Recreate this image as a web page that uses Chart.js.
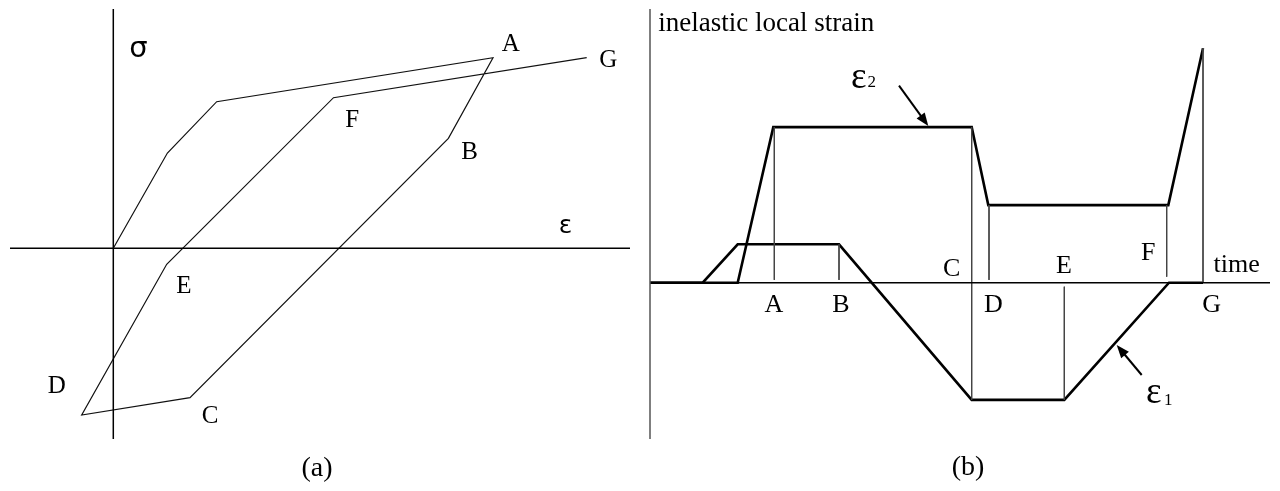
<!DOCTYPE html>
<html><head><meta charset="utf-8">
<script src="https://cdn.jsdelivr.net/npm/chart.js@4/dist/chart.umd.min.js"></script>
<style>
html,body{margin:0;padding:0;background:#fff;width:1280px;height:491px;overflow:hidden}
canvas{position:absolute;top:0}
#ca{left:0}
#cb{left:640px}
</style></head><body>
<canvas id="ca" width="640" height="491"></canvas>
<canvas id="cb" width="640" height="491"></canvas>
<script>
// ---------- Panel (a): stress-strain loop ----------
const loopStrain = [0, 0.541, 1.034, 3.797, 3.351, 0.767, -0.316, 0.534, 2.202, 4.734];
const loopStress = [0, 0.953, 1.466, 1.906, 1.100, -1.494, -1.667, -0.160, 1.506, 1.906];
const loopLabels = ['A', 'B', 'C', 'D', 'E', 'F', 'G'];
const loopLabelStrain = [3.975, 3.564, 0.967, -0.566, 0.707, 2.389, 4.949];
const loopLabelStress = [2.036, 0.958, -1.677, -1.384, -0.384, 1.275, 1.883];
const strainRangeA = [-1.033, 5.167];
const stressRangeA = [-1.907, 2.393];

// ---------- Panel (b): inelastic local strain vs time ----------
const eps1Time = [0, 5.27, 8.77, 18.9, 32.17, 41.43, 51.9, 55.3];
const eps1Value = [0, 0, 0.96, 0.96, -2.93, -2.93, 0, 0];
const eps2Time = [0, 8.77, 12.33, 32.17, 33.83, 51.83, 55.3];
const eps2Value = [0, 0, 3.89, 3.89, 1.94, 1.94, 5.86];
const eventLabels = ['A', 'B', 'C', 'D', 'E', 'F', 'G'];
const eventTime = [12.43, 18.9, 32.17, 33.9, 41.43, 51.67, 55.3];
const eventTop = [3.89, 0.96, 3.89, 1.94, -0.1, 1.94, 5.86];
const eventBottom = [0.07, 0.07, -2.93, 0.07, -2.93, 0.15, 0];
const eventLabelTime = [12.4, 19.1, 30.17, 34.33, 41.4, 49.83, 56.17];
const eventLabelValue = [-0.56, -0.56, 0.335, -0.56, 0.42, 0.735, -0.56];
const arrowTailTime = [24.9, 49.17];
const arrowTailValue = [4.925, -2.3075];
const arrowTipTime = [27.83, 46.67];
const arrowTipValue = [3.9175, -1.5575];
const timeRange = [0, 62];
const strainRangeB = [-3.9075, 6.8425];

const SERIF = '"Liberation Serif", "Times New Roman", serif';
const SANS = '"DejaVu Sans", sans-serif';

function pts(xs, ys) { return xs.map((v, i) => ({ x: v, y: ys[i] })); }
function line(data, color, width) {
  return { data, borderColor: color, borderWidth: width, showLine: true, pointRadius: 0,
           fill: false, tension: 0, clip: false, borderJoinStyle: 'miter' };
}

const textPlugin = {
  id: 'texts',
  afterDatasetsDraw(chart, args, opts) {
    const { ctx } = chart; const sx = chart.scales.x, sy = chart.scales.y;
    ctx.save();
    ctx.fillStyle = '#000';
    for (const it of opts.items || []) {
      ctx.font = it.font;
      ctx.textAlign = it.align || 'center';
      ctx.textBaseline = it.baseline || 'middle';
      ctx.fillText(it.text, sx.getPixelForValue(it.x), sy.getPixelForValue(it.y));
    }
    for (const a of opts.arrows || []) {
      const x0 = sx.getPixelForValue(a.x0), y0 = sy.getPixelForValue(a.y0);
      const x1 = sx.getPixelForValue(a.x1), y1 = sy.getPixelForValue(a.y1);
      const ang = Math.atan2(y1 - y0, x1 - x0);
      const L = 13, W = 5;
      ctx.strokeStyle = '#000'; ctx.lineWidth = 2;
      ctx.beginPath(); ctx.moveTo(x0, y0);
      ctx.lineTo(x1 - L * 0.8 * Math.cos(ang), y1 - L * 0.8 * Math.sin(ang)); ctx.stroke();
      ctx.beginPath();
      ctx.moveTo(x1, y1);
      ctx.lineTo(x1 - L * Math.cos(ang) + W * Math.sin(ang), y1 - L * Math.sin(ang) - W * Math.cos(ang));
      ctx.lineTo(x1 - L * Math.cos(ang) - W * Math.sin(ang), y1 - L * Math.sin(ang) + W * Math.cos(ang));
      ctx.closePath(); ctx.fill();
    }
    ctx.restore();
  }
};

function baseOptions(xr, yr, items, arrows) {
  return {
    responsive: false, animation: false, devicePixelRatio: 1,
    layout: { padding: { left: 10, right: 10, top: 9, bottom: 52 } },
    scales: {
      x: { type: 'linear', min: xr[0], max: xr[1], display: false },
      y: { type: 'linear', min: yr[0], max: yr[1], display: false }
    },
    plugins: { legend: { display: false }, tooltip: { enabled: false }, title: { display: false },
               texts: { items, arrows } }
  };
}

// ---------- chart (a) ----------
const itemsA = loopLabels.map((t, i) => ({ text: t, x: loopLabelStrain[i], y: loopLabelStress[i], font: '25px ' + SERIF }));
itemsA.push({ text: 'σ', x: 0.16, y: 1.916, font: '29px ' + SANS, align: 'left', baseline: 'alphabetic' });
itemsA.push({ text: 'ε', x: 4.455, y: 0.15, font: '25px ' + SANS, align: 'left', baseline: 'alphabetic' });
itemsA.push({ text: '(a)', x: (317 - 113.3) / 100, y: (248.3 - 469) / 100, font: '28px ' + SERIF });

new Chart(document.getElementById('ca'), {
  type: 'scatter',
  data: { datasets: [
    line(pts(strainRangeA, [0, 0]), '#000', 1.5),
    line(pts([0, 0], stressRangeA), '#000', 1.5),
    line(pts(loopStrain, loopStress), '#111', 1.2)
  ] },
  options: baseOptions(strainRangeA, stressRangeA, itemsA, []),
  plugins: [textPlugin]
});

// ---------- chart (b) ----------
const itemsB = eventLabels.map((t, i) => ({ text: t, x: eventLabelTime[i], y: eventLabelValue[i], font: '26px ' + SERIF }));
itemsB.push({ text: 'time', x: 58.67, y: 0.44, font: '26px ' + SERIF });
itemsB.push({ text: 'inelastic local strain', x: 0.83, y: 6.3, font: '27px ' + SERIF, align: 'left', baseline: 'alphabetic' });
itemsB.push({ text: 'ε', x: 20.1, y: 4.86, font: '37px ' + SERIF, align: 'left', baseline: 'alphabetic' });
itemsB.push({ text: '2', x: 21.75, y: 4.9, font: '17px ' + SERIF, align: 'left', baseline: 'alphabetic' });
itemsB.push({ text: 'ε', x: 49.6, y: -3.015, font: '37px ' + SERIF, align: 'left', baseline: 'alphabetic' });
itemsB.push({ text: '1', x: 51.4, y: -3.06, font: '17px ' + SERIF, align: 'left', baseline: 'alphabetic' });
itemsB.push({ text: '(b)', x: (968 - 650) / 10, y: (282.7 - 468) / 40, font: '28px ' + SERIF });
const arrowsB = arrowTailTime.map((t, i) => ({ x0: t, y0: arrowTailValue[i], x1: arrowTipTime[i], y1: arrowTipValue[i] }));

const dsB = [
  line(pts([0, 0], strainRangeB), '#555', 1.5),
  line(pts(timeRange, [0, 0]), '#000', 1.5)
];
eventTime.forEach((t, i) => dsB.push(line(pts([t, t], [eventTop[i], eventBottom[i]]), '#444', 1)));
dsB.push(line(pts(eps1Time, eps1Value), '#000', 2.6));
dsB.push(line(pts(eps2Time, eps2Value), '#000', 2.6));

new Chart(document.getElementById('cb'), {
  type: 'scatter',
  data: { datasets: dsB },
  options: baseOptions(timeRange, strainRangeB, itemsB, arrowsB),
  plugins: [textPlugin]
});
</script>
</body></html>
